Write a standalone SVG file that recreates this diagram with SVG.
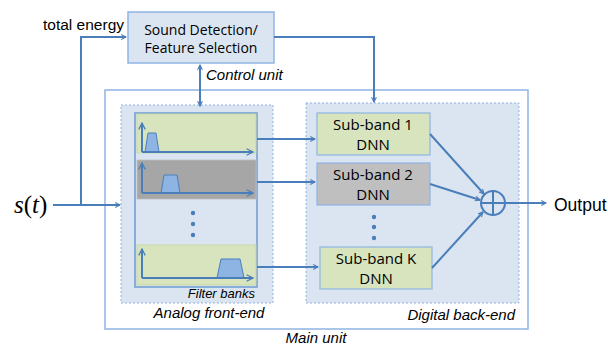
<svg xmlns="http://www.w3.org/2000/svg" width="608" height="347" viewBox="0 0 608 347">
<style>
.ln{stroke:#4a7ebb;stroke-width:2;fill:none}
.lbl{font-family:"Liberation Sans",Arial,sans-serif;fill:#000}
.it{font-family:"Liberation Sans",Arial,sans-serif;font-style:italic;fill:#000}
.nd{font-family:"Open Sans","Noto Sans",sans-serif;fill:#000;text-anchor:middle}
.green{fill:#d7e4bd;stroke:#8eb4e3;stroke-width:1.2}
.gray{fill:#bfbfbf;stroke:#8eb4e3;stroke-width:1.2}
.dash{fill:#dbe5f1;stroke:#8eb4e3;stroke-width:1;stroke-dasharray:2,2}
.dot{fill:#4a7ebb}
.trap{fill:#8eb4e3;stroke:#4a7ebb;stroke-width:1}
</style>
<defs>
<marker id="ah" viewBox="0 0 10 10" refX="9" refY="5" markerWidth="6" markerHeight="6" orient="auto-start-reverse" markerUnits="userSpaceOnUse">
<path d="M1,1 L9,5 L1,9" fill="none" stroke="#4a7ebb" stroke-width="1.8"/>
</marker>
<marker id="ahs" viewBox="0 0 10 10" refX="9" refY="5" markerWidth="8" markerHeight="8" orient="auto-start-reverse" markerUnits="userSpaceOnUse">
<path d="M1,1 L9,5 L1,9" fill="none" stroke="#4a7ebb" stroke-width="1.6"/>
</marker>
</defs>
<rect width="608" height="347" fill="#fff"/>

<g id="main-unit">
<rect x="105" y="90" width="423" height="239" fill="#fff" stroke="#8eb4e3" stroke-width="1.5"/>
<text class="it" x="316" y="343" font-size="15" text-anchor="middle">Main unit</text>
</g>

<g id="analog-front-end">
<rect class="dash" x="121" y="105" width="152" height="198"/>
<text class="it" x="209" y="318" font-size="15" text-anchor="middle">Analog front-end</text>
</g>

<g id="filter-banks">
<rect x="135" y="113" width="122" height="174" fill="#dbe5f1" stroke="#6f9bd1" stroke-width="1.5"/>
<text class="it" x="255" y="298" font-size="13" text-anchor="end">Filter banks</text>
</g>

<g id="filter-1">
<rect x="137" y="114" width="119" height="39" fill="#d7e4bd" stroke="#c3d69b" stroke-width="0.8"/>
<polygon class="trap" points="145,152 148,133 156,133 159,152"/>
<line class="ln" x1="142" y1="152" x2="142" y2="123" marker-end="url(#ahs)" stroke-width="1.5"/>
<line class="ln" x1="142" y1="152" x2="253" y2="152" marker-end="url(#ahs)" stroke-width="1.5"/>
</g>

<g id="filter-2">
<rect x="137" y="160" width="119" height="39" fill="#a6a6a6" stroke="#bfbfbf" stroke-width="0.8"/>
<polygon class="trap" points="161,193 164,175 177,175 180,193"/>
<line class="ln" x1="142" y1="193" x2="142" y2="163" marker-end="url(#ahs)" stroke-width="1.5"/>
<line class="ln" x1="142" y1="193" x2="253" y2="193" marker-end="url(#ahs)" stroke-width="1.5"/>
</g>

<g id="filter-dots">
<circle class="dot" cx="193" cy="213" r="2.2"/>
<circle class="dot" cx="193" cy="224" r="2.2"/>
<circle class="dot" cx="193" cy="235" r="2.2"/>
</g>

<g id="filter-k">
<rect x="137" y="245" width="119" height="40" fill="#d7e4bd" stroke="#c3d69b" stroke-width="0.8"/>
<polygon class="trap" points="217,278 221,259 240,259 244,278"/>
<line class="ln" x1="142" y1="278" x2="142" y2="249" marker-end="url(#ahs)" stroke-width="1.5"/>
<line class="ln" x1="142" y1="278" x2="253" y2="278" marker-end="url(#ahs)" stroke-width="1.5"/>
</g>

<g id="digital-back-end">
<rect class="dash" x="306" y="103" width="213" height="200"/>
<text class="it" x="515" y="320" font-size="15" text-anchor="end">Digital back-end</text>
</g>

<g id="control-unit">
<rect x="128" y="12" width="146" height="51" fill="#dbe5f1" stroke="#8eb4e3" stroke-width="1.5"/>
<text class="nd" x="201" y="35" font-size="14">Sound Detection/</text>
<text class="nd" x="201" y="53" font-size="14">Feature Selection</text>
<text class="it" x="206" y="80" font-size="15">Control unit</text>
</g>

<g id="dnn-1">
<rect class="green" x="317" y="113" width="113" height="42"/>
<text class="nd" x="373" y="130" font-size="15">Sub-band 1</text>
<text class="nd" x="373" y="150" font-size="15">DNN</text>
</g>

<g id="dnn-2">
<rect class="gray" x="317" y="163" width="113" height="42"/>
<text class="nd" x="373" y="180" font-size="15">Sub-band 2</text>
<text class="nd" x="373" y="200" font-size="15">DNN</text>
</g>

<g id="dnn-dots">
<circle class="dot" cx="374" cy="217" r="2.2"/>
<circle class="dot" cx="374" cy="227" r="2.2"/>
<circle class="dot" cx="374" cy="238" r="2.2"/>
</g>

<g id="dnn-k">
<rect class="green" x="320" y="247" width="112" height="42"/>
<text class="nd" x="376" y="264" font-size="15">Sub-band K</text>
<text class="nd" x="376" y="284" font-size="15">DNN</text>
</g>

<g id="sum">
<circle cx="493" cy="203" r="12" fill="none" stroke="#4a7ebb" stroke-width="2"/>
<line class="ln" x1="481" y1="203" x2="505" y2="203"/>
<line class="ln" x1="493" y1="191" x2="493" y2="215"/>
</g>

<g id="input">
<text x="14" y="213" font-family="'Liberation Serif','Times New Roman',serif" font-size="25"><tspan font-style="italic">s</tspan>(<tspan font-style="italic">t</tspan>)</text>
</g>

<g id="output">
<text class="lbl" x="554" y="211" font-size="17.5">Output</text>
</g>

<g id="energy">
<text class="lbl" x="43" y="30" font-size="15.5">total energy</text>
</g>

<g id="connectors">
<line class="ln" x1="53" y1="205" x2="120" y2="205" marker-end="url(#ah)"/>
<polyline class="ln" points="81,205 81,37 126,37" marker-end="url(#ah)"/>
<polyline class="ln" points="274,37 374,37 374,102" marker-end="url(#ah)"/>
<line class="ln" x1="200" y1="65" x2="200" y2="106" marker-start="url(#ah)" marker-end="url(#ah)"/>
<line class="ln" x1="257" y1="139" x2="315" y2="139" marker-end="url(#ah)"/>
<line class="ln" x1="257" y1="182" x2="315" y2="182" marker-end="url(#ah)"/>
<line class="ln" x1="257" y1="267" x2="318" y2="267" marker-end="url(#ah)"/>
<line class="ln" x1="430" y1="134" x2="484" y2="194" marker-end="url(#ah)"/>
<line class="ln" x1="430" y1="184" x2="480" y2="200" marker-end="url(#ah)"/>
<line class="ln" x1="432" y1="268" x2="483" y2="212" marker-end="url(#ah)"/>
<line class="ln" x1="505" y1="203" x2="546" y2="203" marker-end="url(#ah)"/>
</g>
</svg>
